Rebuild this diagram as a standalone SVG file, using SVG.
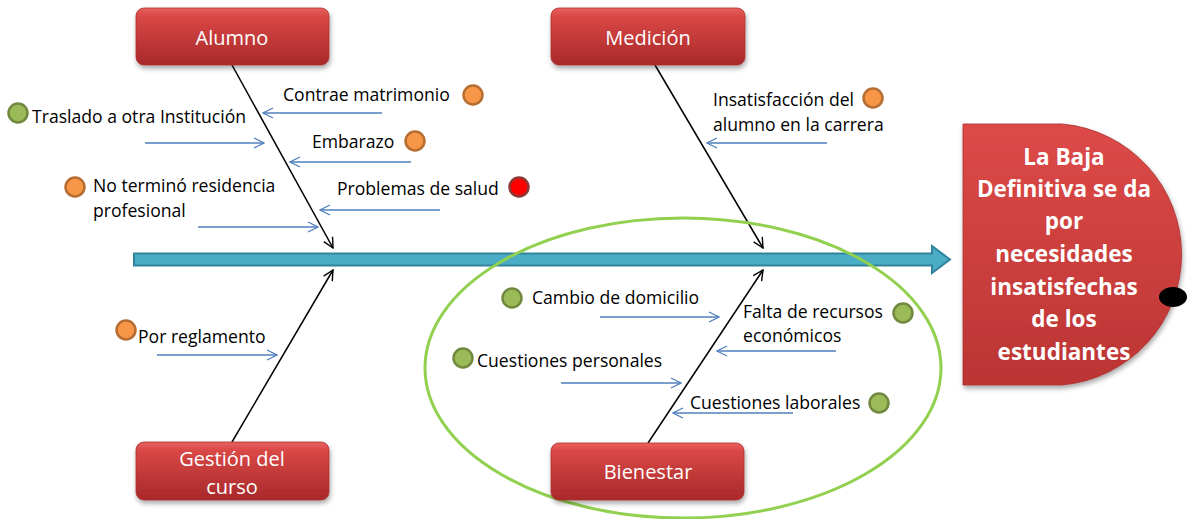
<svg xmlns="http://www.w3.org/2000/svg" width="1192" height="519" viewBox="0 0 1192 519">
<defs>
<linearGradient id="red" x1="0" y1="0" x2="0" y2="1">
<stop offset="0" stop-color="#e8615f"/>
<stop offset="0.15" stop-color="#d94745"/>
<stop offset="1" stop-color="#a8292a"/>
</linearGradient>
<linearGradient id="red2" x1="0" y1="0" x2="0" y2="1">
<stop offset="0" stop-color="#dd4a48"/>
<stop offset="1" stop-color="#bb3433"/>
</linearGradient>
<filter id="sh" x="-10%" y="-10%" width="130%" height="140%">
<feDropShadow dx="1" dy="3" stdDeviation="2.5" flood-color="#000" flood-opacity="0.35"/>
</filter>
<marker id="ab" viewBox="0 0 12 12" refX="11" refY="6" markerWidth="12" markerHeight="12" markerUnits="userSpaceOnUse" orient="auto">
<path d="M1,1 L11,6 L1,11" fill="none" stroke="#4f81bd" stroke-width="1.3"/>
</marker>
<marker id="ak" viewBox="0 0 12 12" refX="11" refY="6" markerWidth="12" markerHeight="12" markerUnits="userSpaceOnUse" orient="auto">
<path d="M1,1 L11,6 L1,11" fill="none" stroke="#000" stroke-width="1.4"/>
</marker>
</defs>
<style>
.box{fill:url(#red);stroke:#a83030;stroke-width:0.8;filter:url(#sh)}
.bt{font-family:"Open Sans","Liberation Sans",sans-serif;font-size:20px;fill:#fff;text-anchor:middle}
.lb{font-family:"Open Sans","Liberation Sans",sans-serif;font-size:17.6px;fill:#000}
.bl{stroke:#4f81bd;stroke-width:1.3;fill:none;marker-end:url(#ab)}
.kl{stroke:#000;stroke-width:1.5;fill:none;marker-end:url(#ak)}
.or{fill:#f79646;stroke:#b66d31;stroke-width:2.5}
.gr{fill:#9bbb59;stroke:#71893f;stroke-width:2.5}
.rd{fill:#ff0000;stroke:#8c3836;stroke-width:2.5}
.ht{font-family:"Open Sans","Liberation Sans",sans-serif;font-size:22.5px;font-weight:bold;fill:#fff;text-anchor:middle}
</style>

<g id="spine">
<path d="M134,253.5 L932,253.5 L932,246 L950,259.5 L932,273 L932,265.5 L134,265.5 Z" fill="#4bacc6" stroke="#31849b" stroke-width="2"/>
</g>

<g id="connectors">
<line class="kl" x1="232" y1="65" x2="333" y2="248"/>
<line class="kl" x1="232" y1="442" x2="333" y2="270"/>
<line class="kl" x1="655" y1="65" x2="763" y2="248"/>
<line class="kl" x1="648" y1="443" x2="763" y2="270"/>
<line class="bl" x1="382" y1="113" x2="263" y2="113"/>
<line class="bl" x1="145" y1="143" x2="264" y2="143"/>
<line class="bl" x1="411" y1="162" x2="290" y2="162"/>
<line class="bl" x1="440" y1="210" x2="320" y2="210"/>
<line class="bl" x1="198" y1="227" x2="318" y2="227"/>
<line class="bl" x1="827" y1="143" x2="707" y2="143"/>
<line class="bl" x1="157" y1="355" x2="277" y2="355"/>
<line class="bl" x1="600" y1="317" x2="719" y2="317"/>
<line class="bl" x1="836" y1="351" x2="717" y2="351"/>
<line class="bl" x1="561" y1="383" x2="681" y2="383"/>
<line class="bl" x1="793" y1="413" x2="673" y2="413"/>
</g>

<g id="grupo-bienestar">
<ellipse cx="683" cy="368" rx="258" ry="150" fill="none" stroke="#92d050" stroke-width="3"/>
</g>

<g id="alumno">
<rect class="box" x="136" y="8" width="193" height="57" rx="8"/>
<text class="bt" x="232" y="45">Alumno</text>
</g>
<g id="medicion">
<rect class="box" x="551" y="8" width="194" height="57" rx="8"/>
<text class="bt" x="648" y="45">Medición</text>
</g>
<g id="gestion">
<rect class="box" x="136" y="442" width="193" height="58" rx="8"/>
<text class="bt" x="232" y="466">Gestión del</text>
<text class="bt" x="232" y="494">curso</text>
</g>
<g id="bienestar">
<rect class="box" x="551" y="443" width="193" height="57" rx="8"/>
<text class="bt" x="648" y="479">Bienestar</text>
</g>

<g id="efecto">
<path d="M963,124 L1062,124 A131,131 0 0 1 1062,385 L963,385 Z" fill="url(#red2)" stroke="#a83030" stroke-width="0.8" filter="url(#sh)"/>
<ellipse cx="1173" cy="297" rx="14" ry="10" fill="#000"/>
<text class="ht" x="1064" y="165">La Baja</text>
<text class="ht" x="1064" y="197">Definitiva se da</text>
<text class="ht" x="1064" y="229">por</text>
<text class="ht" x="1064" y="262">necesidades</text>
<text class="ht" x="1064" y="295">insatisfechas</text>
<text class="ht" x="1064" y="327">de los</text>
<text class="ht" x="1064" y="360">estudiantes</text>
</g>

<g id="causa-contrae">
<text class="lb" x="283" y="101">Contrae matrimonio</text>
<circle class="or" cx="473" cy="95" r="9.5"/>
</g>
<g id="causa-traslado">
<circle class="gr" cx="18" cy="113" r="9.5"/>
<text class="lb" x="32" y="123">Traslado a otra Institución</text>
</g>
<g id="causa-embarazo">
<text class="lb" x="312" y="148">Embarazo</text>
<circle class="or" cx="415" cy="141" r="9.5"/>
</g>
<g id="causa-residencia">
<circle class="or" cx="75" cy="187" r="9.5"/>
<text class="lb" x="93" y="192">No terminó residencia</text>
<text class="lb" x="93" y="217">profesional</text>
</g>
<g id="causa-salud">
<text class="lb" x="337" y="195">Problemas de salud</text>
<circle class="rd" cx="519" cy="187" r="9.5"/>
</g>
<g id="causa-insatisfaccion">
<text class="lb" x="713" y="106">Insatisfacción del</text>
<text class="lb" x="713" y="131">alumno en la carrera</text>
<circle class="or" cx="873" cy="98" r="9.5"/>
</g>
<g id="causa-reglamento">
<circle class="or" cx="126" cy="330" r="9.5"/>
<text class="lb" x="138" y="343">Por reglamento</text>
</g>
<g id="causa-domicilio">
<circle class="gr" cx="512" cy="298" r="9.5"/>
<text class="lb" x="532" y="304">Cambio de domicilio</text>
</g>
<g id="causa-recursos">
<text class="lb" x="743" y="318">Falta de recursos</text>
<text class="lb" x="743" y="342">económicos</text>
<circle class="gr" cx="903" cy="313" r="9.5"/>
</g>
<g id="causa-personales">
<circle class="gr" cx="463" cy="358" r="9.5"/>
<text class="lb" x="477" y="367">Cuestiones personales</text>
</g>
<g id="causa-laborales">
<text class="lb" x="690" y="409">Cuestiones laborales</text>
<circle class="gr" cx="879" cy="403" r="9.5"/>
</g>
</svg>
